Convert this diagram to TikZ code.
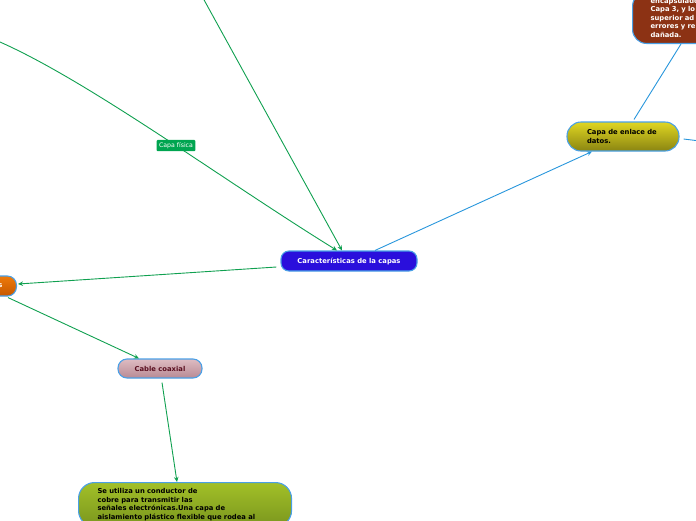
\documentclass[tikz,border=0pt]{standalone}
\usepackage{fontspec}
\setmainfont{DejaVu Sans}
\usetikzlibrary{arrows.meta}
\definecolor{cblue}{RGB}{42,15,220}
\definecolor{bord}{RGB}{74,160,230}
\definecolor{ytop}{RGB}{224,214,34}
\definecolor{ybot}{RGB}{138,133,18}
\definecolor{brownc}{RGB}{140,50,20}
\definecolor{otop}{RGB}{238,122,10}
\definecolor{obot}{RGB}{198,88,0}
\definecolor{ptop}{RGB}{222,188,194}
\definecolor{pbot}{RGB}{184,138,148}
\definecolor{gtop}{RGB}{162,192,40}
\definecolor{gbot}{RGB}{122,150,30}
\definecolor{gline}{RGB}{16,160,80}
\definecolor{glabel}{RGB}{0,165,80}
\definecolor{bline}{RGB}{40,150,220}
\definecolor{maroon}{RGB}{90,15,32}
\tikzset{
  topic/.style={draw=bord, line width=1.1pt, font=\fontsize{6.8pt}{8.5pt}\selectfont\bfseries},
  gconn/.style={draw=gline, line width=0.9pt},
  bconn/.style={draw=bline, line width=0.9pt},
  tip/.style={-{Stealth[length=5pt,width=4.5pt]}}
}
\begin{document}
\begin{tikzpicture}[x=1pt,y=-1pt]
\useasboundingbox (0,0) rectangle (696,520);
\clip (0,0) rectangle (696,520);

% nodes
\node[topic, fill=cblue, text=white, minimum width=136pt, minimum height=20pt, rounded corners=8pt] (center) at (349,261) {Características de la capas};

\node[topic, top color=ytop, bottom color=ybot, text=black, text width=96pt, align=left, inner xsep=8pt, minimum height=29pt, rounded corners=14pt] (enlace) at (623,136.5) {\hspace*{12pt}Capa de enlace de\\\hspace*{12pt}datos.};

\node[topic, fill=brownc, text=white, text width=120pt, align=left, inner xsep=18pt, inner ysep=6pt, rounded corners=14pt, anchor=south west] (brown) at (632,44) {encapsulado\\Capa 3, y lo\\superior ad\\errores y re\\dañada.};

\node[topic, top color=otop, bottom color=obot, text=white, text width=26pt, align=right, inner xsep=14pt, minimum height=20pt, rounded corners=9pt, anchor=east] (orange) at (17,286) {s};

\node[topic, top color=ptop, bottom color=pbot, text=maroon, minimum width=84pt, minimum height=19pt, rounded corners=9pt] (coax) at (160,368.5) {Cable coaxial};

\node[topic, top color=gtop, bottom color=gbot, text=black, text width=175pt, align=left, inner xsep=19pt, inner ysep=6pt, rounded corners=16pt, anchor=north west] (green) at (78,482) {Se utiliza un conductor de\\cobre para transmitir las\\señales electrónicas.Una capa de\\aislamiento plástico flexible que rodea al};

% free ends
\coordinate (cstart) at (0,42);
\coordinate (lstart) at (203,-2);
\coordinate (rend) at (700,141);

% connectors
\draw[gconn, tip] (cstart) .. controls (90,82) and (220,178) .. ([xshift=-12pt]center.north)
  node[pos=0.55, fill=glabel, text=white, inner xsep=2.5pt, inner ysep=2.5pt, rounded corners=1pt, font=\fontsize{6.2pt}{7pt}\selectfont] (fisica) {Capa física};
\draw[gconn, tip] (lstart) -- ([xshift=-7pt]center.north);
\draw[bconn, tip] ([xshift=26pt]center.north) -- ([xshift=-31pt]enlace.south);
\draw[bconn] ([xshift=11pt,yshift=2pt]enlace.north) -- ([xshift=49pt]brown.south west);
\draw[bconn] ([xshift=4pt,yshift=-2.5pt]enlace.east) -- (rend);
\draw[gconn, tip] ([xshift=-4pt,yshift=-6pt]center.west) -- ([xshift=1pt,yshift=2pt]orange.east);
\draw[gconn, tip] ([xshift=-9pt,yshift=-1pt]orange.south east) -- ([xshift=-21pt]coax.north);
\draw[gconn, tip] ([xshift=2pt,yshift=-4pt]coax.south) -- ([xshift=99pt]green.north west);
\end{tikzpicture}
\end{document}
